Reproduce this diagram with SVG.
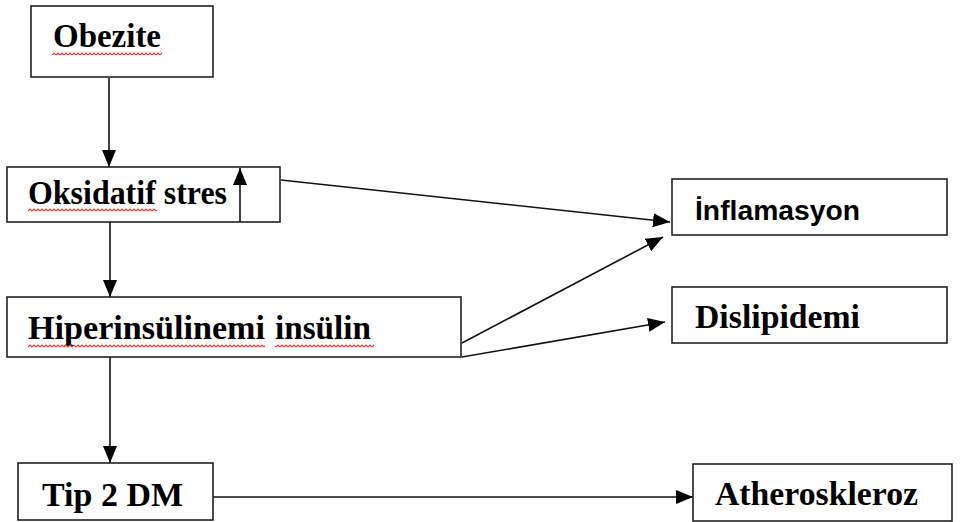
<svg xmlns="http://www.w3.org/2000/svg" width="960" height="522" viewBox="0 0 960 522">
<style>
.box{fill:#fff;stroke:#222;stroke-width:1.6}
.t{font-family:"Liberation Serif","Times New Roman",serif;font-weight:bold;font-size:33px;fill:#000}
.s{font-family:"Liberation Sans",Arial,sans-serif;font-weight:bold;font-size:28px;fill:#000}
.c{stroke:#111;stroke-width:1.6;fill:none}
.w{fill:url(#wave)}
</style>
<defs>
<marker id="ah" markerUnits="userSpaceOnUse" markerWidth="18" markerHeight="14" refX="17" refY="7" orient="auto">
<path d="M0,0 L17,7 L0,14 Z" fill="#000"/>
</marker>
<pattern id="wave" patternUnits="userSpaceOnUse" width="4" height="4">
<path d="M0,3 L2,1 L4,3" fill="none" stroke="#ee3030" stroke-width="1.1"/>
</pattern>
</defs>
<g id="connectors">
<line class="c" x1="109" y1="78" x2="109" y2="167" marker-end="url(#ah)"/>
<line class="c" x1="110" y1="222" x2="110" y2="297" marker-end="url(#ah)"/>
<line class="c" x1="110" y1="357" x2="110" y2="463" marker-end="url(#ah)"/>
<line class="c" x1="213" y1="497" x2="693" y2="497" marker-end="url(#ah)"/>
<line class="c" x1="281" y1="180" x2="670" y2="222" marker-end="url(#ah)"/>
<line class="c" x1="462" y1="343" x2="663" y2="237" marker-end="url(#ah)"/>
<line class="c" x1="462" y1="357" x2="665" y2="322" marker-end="url(#ah)"/>
</g>
<g id="obezite">
<rect class="box" x="31" y="6" width="182" height="71"/>
<text class="t" x="53" y="47" textLength="108" lengthAdjust="spacingAndGlyphs">Obezite</text>
<rect class="w" x="52" y="51" width="110" height="4"/>
</g>
<g id="oksidatif">
<rect class="box" x="7" y="167" width="273" height="55"/>
<text class="t" x="28" y="204" textLength="199" lengthAdjust="spacingAndGlyphs">Oksidatif stres</text>
<rect class="w" x="28" y="208" width="129" height="4"/>
<line class="c" x1="240" y1="222" x2="240" y2="168" marker-end="url(#ah)"/>
</g>
<g id="hiperinsulinemi">
<rect class="box" x="7" y="297" width="454" height="60"/>
<text class="t" x="28" y="339" textLength="237" lengthAdjust="spacingAndGlyphs">Hiperinsülinemi</text>
<text class="t" x="275" y="339" textLength="96" lengthAdjust="spacingAndGlyphs">insülin</text>
<rect class="w" x="28" y="344" width="237" height="4"/>
<rect class="w" x="275" y="344" width="99" height="4"/>
</g>
<g id="tip2dm">
<rect class="box" x="18" y="463" width="195" height="57"/>
<text class="t" x="42" y="506" textLength="141" lengthAdjust="spacingAndGlyphs">Tip 2 DM</text>
</g>
<g id="inflamasyon">
<rect class="box" x="672" y="179" width="275" height="56"/>
<text class="s" x="695" y="220" textLength="165" lengthAdjust="spacingAndGlyphs">İnflamasyon</text>
</g>
<g id="dislipidemi">
<rect class="box" x="672" y="287" width="275" height="56"/>
<text class="t" x="695" y="328" textLength="165" lengthAdjust="spacingAndGlyphs">Dislipidemi</text>
</g>
<g id="atheroskleroz">
<rect class="box" x="693" y="464" width="259" height="57"/>
<text class="t" x="715" y="505" textLength="203" lengthAdjust="spacingAndGlyphs">Atheroskleroz</text>
</g>
</svg>
